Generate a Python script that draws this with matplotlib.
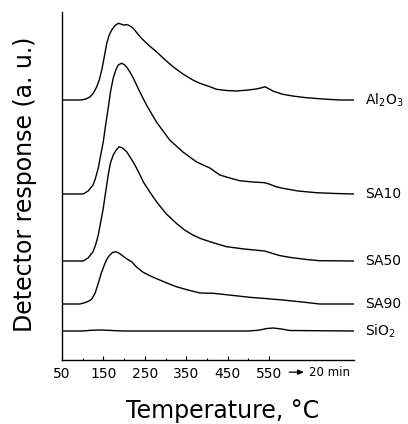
import matplotlib
matplotlib.use("Agg")
import matplotlib.pyplot as plt

# ---- data (temperature in degC, signal in arbitrary units above each baseline) ----
al2o3_T = [50, 97, 108, 118, 126, 134, 140, 146, 152, 158, 164, 170, 178, 186, 192, 198, 204, 210,
           216, 222, 232, 242, 260, 278, 298, 318, 342, 366, 383, 407, 423, 447, 471, 495, 519, 532,
           540, 548, 560, 583, 610, 640, 680, 720, 755]
al2o3_s = [0, 0, 1, 3.3, 7, 13.3, 20, 30, 43, 56.7, 65, 70, 74.5, 76.7, 76, 75, 75.3, 75,
           73.5, 71.7, 66.5, 61.7, 54.5, 48.3, 40.5, 33.3, 26, 20, 16.7, 13.3, 10.7, 9.5, 9, 9.8, 11, 12.2,
           13.3, 11.5, 8.8, 5.7, 3.8, 2.3, 1, 0, 0]

sa10_T = [50, 101, 113, 125, 131, 137.6, 143, 149.6, 155, 161.6, 167, 173.7, 180, 185.7, 193.8, 200,
          206, 214, 222, 230, 238, 254, 278, 310, 342, 375, 407, 431, 455, 479, 510, 539, 550, 565,
          583, 620, 664, 710, 755]
sa10_s = [0, 0, 3, 9, 16, 26, 38, 52, 68, 86, 102, 116, 124, 129, 130.7, 129.5,
          127, 122, 116, 109, 102, 89, 72, 54, 42, 32, 26, 19, 16, 13.3, 12, 11.3, 10, 7.5,
          5.7, 3, 1.3, 0.5, 0]

sa50_T = [50, 101, 113, 125, 131, 137.6, 143, 149.6, 155, 161.6, 167, 173.7, 181, 188, 196, 206, 216,
          226, 236, 246, 262, 278, 302, 326, 346, 366, 383, 407, 447, 490, 539, 555, 575, 599, 640,
          672, 755]
sa50_s = [0, 0, 3, 9.3, 16, 26, 38, 52.7, 68, 86, 98, 106, 111, 114.3, 113, 109.3, 103,
          96, 88, 79.3, 69, 59.3, 47, 37.7, 31, 26, 22.7, 19.3, 14.3, 12, 10, 8, 5.5, 3.7, 1.5,
          0.3, 0]

sa90_T = [50, 93, 105, 115, 121.6, 130, 137.6, 145, 153.7, 160, 165.7, 172, 180, 187, 193.8, 205, 218,
          230, 246, 266, 286, 306, 326, 354, 383, 415, 460, 503, 540, 583, 630, 672, 755]
sa90_s = [0, 0, 1.3, 3, 4.7, 11, 20.7, 31, 40.7, 46, 49, 51.5, 52.3, 51, 49, 45.5, 42.3,
          37, 31.7, 27.5, 24, 20.5, 17.3, 14, 11, 10.7, 8.7, 6.7, 5.5, 4, 2, 0, 0]

sio2_T = [50, 100, 120, 140, 160, 180, 200, 500, 525, 545, 560, 580, 600, 755]
sio2_s = [0, 0, 0.7, 1, 0.7, 0.3, 0, 0, 0.8, 2.5, 3, 2, 0.5, 0]

labels = ["Al$_2$O$_3$", "SA10", "SA50", "SA90", "SiO$_2$"]
offsets = [260, 166, 99, 56, 29]

xtick_values = [50, 150, 250, 350, 450, 550]
xtick_labels = ["50", "150", "250", "350", "450", "550"]
minor_ticks = [100, 200, 300, 400, 500]

# ---- figure ----
fig = plt.figure(figsize=(4.08, 4.24), dpi=100)
ax = fig.add_axes([62 / 408, 64 / 424, 292 / 408, 348 / 424])

series = [(al2o3_T, al2o3_s), (sa10_T, sa10_s), (sa50_T, sa50_s), (sa90_T, sa90_s), (sio2_T, sio2_s)]
for (T, s), off, lab in zip(series, offsets, labels):
    ax.plot(T, [v + off for v in s], color="black", lw=1.0, solid_joinstyle="round")
    ax.text(782, off, lab, ha="left", va="center", fontsize=10, clip_on=False)

ax.set_xlim(50, 755)
ax.set_ylim(0, 348)
for sp in ("top", "right"):
    ax.spines[sp].set_visible(False)
ax.spines["left"].set_linewidth(1.0)
ax.spines["bottom"].set_linewidth(1.0)

ax.set_yticks([])
ax.set_xticks(xtick_values)
ax.set_xticklabels(xtick_labels, fontsize=10)
ax.set_xticks(minor_ticks, minor=True)
ax.tick_params(axis="x", which="major", direction="in", length=3, width=0.8, pad=5)
ax.tick_params(axis="x", which="minor", direction="in", length=1.8, width=0.8)

trans = ax.get_xaxis_transform()
ax.annotate("", xy=(641, -0.035), xytext=(592, -0.035), xycoords=trans, textcoords=trans,
            arrowprops=dict(arrowstyle="-|>,head_length=0.35,head_width=0.15", lw=0.9, color="black"))
ax.text(646, -0.035, "20 min", transform=trans, ha="left", va="center", fontsize=8.5)

fig.text(223 / 408, 1 - 411 / 424, "Temperature, °C", ha="center", va="center", fontsize=17)
fig.text(25 / 408, 1 - 184.5 / 424, "Detector response (a. u.)", ha="center", va="center",
         rotation=90, fontsize=17)

fig.savefig("out.png", dpi=100)
